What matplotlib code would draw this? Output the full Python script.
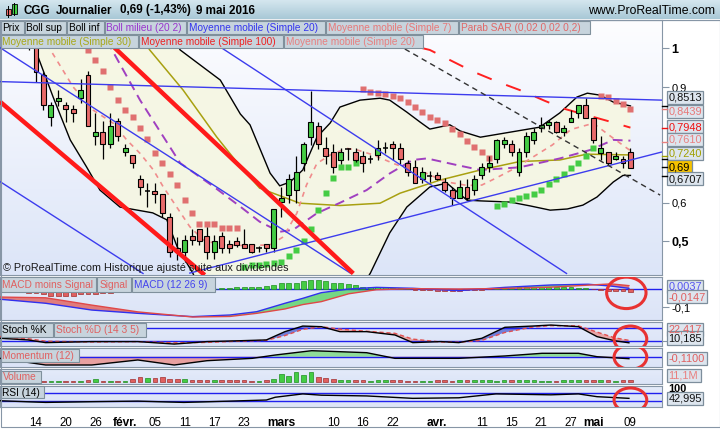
import numpy as np
import matplotlib
matplotlib.use("Agg")
import matplotlib.pyplot as plt
from matplotlib.patches import Rectangle, Ellipse
from matplotlib.colors import LinearSegmentedColormap

plt.rcParams['font.family'] = ['Liberation Sans', 'DejaVu Sans']

# ---------------- price data (trading-day index, 0 = 14 Jan 2016) ----------------
idx = list(range(-1, 81))
opens = [1.08, 1.02, 0.931, 0.822, 0.864, 0.853, 0.842, 0.871, 0.931, 0.772, 0.783, 0.752, 0.811, 0.731, 0.723,
         0.661, 0.631, 0.631, 0.622, 0.563, 0.482, 0.472, 0.514, 0.531, 0.514, 0.472, 0.514, 0.493, 0.502, 0.493,
         0.493, 0.484, 0.493, 0.482, 0.601, 0.62, 0.633, 0.702, 0.771, 0.80, 0.741, 0.731, 0.711, 0.739, 0.731,
         0.722, 0.713, 0.724, 0.741, 0.752, 0.741, 0.702, 0.692, 0.661, 0.67, 0.672, 0.653, 0.633, 0.612, 0.642,
         0.633, 0.672, 0.692, 0.713, 0.752, 0.752, 0.681, 0.731, 0.763, 0.793, 0.802, 0.81, 0.783, 0.81, 0.832,
         0.853, 0.821, 0.73, 0.731, 0.713, 0.713, 0.731]
highs = [1.12, 1.05, 0.94, 0.862, 0.892, 0.862, 0.853, 0.922, 0.941, 0.832, 0.812, 0.832, 0.821, 0.752, 0.723,
         0.672, 0.652, 0.652, 0.622, 0.573, 0.512, 0.517, 0.531, 0.531, 0.538, 0.516, 0.525, 0.504, 0.512, 0.531,
         0.493, 0.489, 0.493, 0.585, 0.64, 0.674, 0.72, 0.757, 0.89, 0.81, 0.77, 0.752, 0.741, 0.741, 0.741,
         0.733, 0.724, 0.763, 0.757, 0.76, 0.755, 0.71, 0.71, 0.692, 0.682, 0.681, 0.663, 0.642, 0.659, 0.661,
         0.672, 0.702, 0.721, 0.765, 0.771, 0.763, 0.741, 0.784, 0.793, 0.823, 0.815, 0.812, 0.802, 0.84, 0.853,
         0.871, 0.821, 0.773, 0.732, 0.732, 0.722, 0.742]
lows = [0.995, 0.914, 0.84, 0.80, 0.851, 0.81, 0.81, 0.858, 0.80, 0.75, 0.713, 0.741, 0.761, 0.722, 0.691,
        0.62, 0.59, 0.60, 0.563, 0.46, 0.452, 0.447, 0.491, 0.49, 0.454, 0.454, 0.469, 0.471, 0.486, 0.482,
        0.469, 0.472, 0.472, 0.472, 0.564, 0.60, 0.60, 0.683, 0.75, 0.74, 0.70, 0.676, 0.70, 0.711, 0.707,
        0.68, 0.702, 0.711, 0.728, 0.71, 0.70, 0.67, 0.652, 0.652, 0.655, 0.659, 0.629, 0.594, 0.612, 0.607,
        0.62, 0.661, 0.681, 0.702, 0.741, 0.721, 0.67, 0.719, 0.752, 0.783, 0.79, 0.78, 0.773, 0.81, 0.821,
        0.821, 0.754, 0.711, 0.698, 0.711, 0.69, 0.69]
closes = [1.03, 0.94, 0.853, 0.853, 0.871, 0.842, 0.832, 0.892, 0.80, 0.783, 0.752, 0.80, 0.772, 0.741, 0.702,
          0.642, 0.631, 0.622, 0.573, 0.472, 0.472, 0.504, 0.504, 0.502, 0.472, 0.502, 0.482, 0.482, 0.492, 0.484,
          0.472, 0.484, 0.482, 0.583, 0.613, 0.661, 0.681, 0.752, 0.81, 0.752, 0.721, 0.692, 0.731, 0.739, 0.711,
          0.702, 0.713, 0.741, 0.741, 0.741, 0.713, 0.681, 0.652, 0.681, 0.67, 0.661, 0.633, 0.613, 0.642, 0.612,
          0.661, 0.692, 0.702, 0.763, 0.763, 0.731, 0.731, 0.773, 0.783, 0.802, 0.81, 0.783, 0.793, 0.821, 0.853,
          0.821, 0.763, 0.741, 0.702, 0.722, 0.702, 0.69]

# Bollinger bands (20 2)
bb_up_i = [0, 8, 14, 18.7, 19.4, 24.8, 27.5, 28.8, 31.5, 32.8, 34.2, 35.9, 37.8, 39.6, 40.9, 43.6, 46.3, 47.6,
           49.9, 51.7, 53.0, 55.7, 57.1, 59.8, 63.8, 67.8, 70.5, 72.8, 74.2, 75.9, 77.7, 80.0]
bb_up_p = [1.45, 1.30, 1.15, 1.022, 0.996, 0.918, 0.830, 0.802, 0.677, 0.644, 0.654, 0.685, 0.770, 0.807, 0.848,
           0.866, 0.871, 0.866, 0.835, 0.809, 0.791, 0.802, 0.786, 0.770, 0.783, 0.796, 0.833, 0.874, 0.884, 0.879,
           0.861, 0.851]
bb_lo_i = [-1, 0.1, 2.3, 4.6, 6.8, 8.6, 11.3, 15.7, 17.6, 19.0, 21.1, 22.1, 26, 32, 38, 43.6, 45.0, 47.6, 49.9,
           53.0, 55.3, 58.0, 59.8, 63.8, 66.5, 69.2, 71.5, 73.6, 75.5, 77.7, 79.0, 80.0]
bb_lo_p = [1.08, 0.987, 0.874, 0.763, 0.693, 0.633, 0.589, 0.574, 0.556, 0.486, 0.418, 0.374, 0.32, 0.30, 0.32,
           0.374, 0.418, 0.522, 0.589, 0.641, 0.651, 0.607, 0.605, 0.602, 0.592, 0.581, 0.584, 0.594, 0.615, 0.654,
           0.671, 0.671]
bb_mid_i = [6.0, 10.0, 14.0, 19.4, 23.9, 27.5, 30.1, 32.8, 34.6, 37.8, 40.9, 44.5, 47.6, 50.7, 52.6, 56.6, 59.8,
            65.1, 70.5, 74.6, 77.7, 80.0]
bb_mid_p = [1.12, 1.004, 0.866, 0.703, 0.642, 0.590, 0.551, 0.525, 0.530, 0.573, 0.600, 0.633, 0.676, 0.711,
            0.715, 0.698, 0.685, 0.692, 0.715, 0.737, 0.763, 0.761]

# moving averages
ma7_i = [1.5, 5.0, 7.7, 10.4, 12.2, 14.0, 15.8, 17.1, 18.9, 20.7, 22.5, 24.8, 28.4, 31.5, 33.3, 35.1, 36.4, 37.8,
         39.6, 41.8, 43.2, 45.4, 48.1, 49.9, 52.6, 55.0, 58.0, 60.0, 62.0, 64.5, 67.0, 69.5, 72.0, 75.0, 77.5, 80.0]
ma7_p = [1.01, 0.90, 0.84, 0.806, 0.763, 0.728, 0.685, 0.642, 0.59, 0.538, 0.504, 0.491, 0.489, 0.491, 0.512,
         0.573, 0.646, 0.702, 0.724, 0.741, 0.737, 0.724, 0.702, 0.689, 0.676, 0.655, 0.645, 0.646, 0.665, 0.69,
         0.72, 0.75, 0.79, 0.806, 0.77, 0.735]
ma30_i = [12, 15.3, 19.8, 24.3, 27.5, 30.1, 35.5, 40.9, 46.3, 49.0, 54.4, 59.8, 65.1, 70.5, 74.1, 80.0]
ma30_p = [1.10, 0.996, 0.892, 0.771, 0.694, 0.638, 0.599, 0.593, 0.599, 0.625, 0.659, 0.685, 0.707, 0.711,
          0.726, 0.724]
ma100_i = [44.0, 50.0, 53.0, 58.8, 62.2, 65.4, 68.5, 71.2, 77.5, 80.0]
ma100_p = [1.06, 1.01, 0.996, 0.940, 0.913, 0.890, 0.864, 0.843, 0.809, 0.7948]

# Parabolic SAR
sar_dn_i = list(range(7, 28)) + list(range(44, 62)) + list(range(76, 81))
sar_dn_p = [0.996, 0.970, 0.941, 0.901, 0.866, 0.840, 0.823, 0.794, 0.765, 0.730, 0.702, 0.675, 0.645, 0.606,
            0.573, 0.544, 0.544, 0.544, 0.534, 0.534, 0.534,
            0.894, 0.888, 0.885, 0.881, 0.877, 0.871, 0.862, 0.849, 0.836, 0.823, 0.815, 0.806, 0.790, 0.778,
            0.761, 0.745, 0.731, 0.717,
            0.877, 0.873, 0.864, 0.856, 0.8439]
sar_up_i = list(range(28, 44)) + list(range(62, 76))
sar_up_p = [0.434, 0.439, 0.439, 0.441, 0.444, 0.447, 0.461, 0.478, 0.501, 0.532, 0.581, 0.626, 0.663, 0.694,
            0.694, 0.704,
            0.592, 0.597, 0.606, 0.612, 0.618, 0.623, 0.633, 0.649, 0.662, 0.675, 0.689, 0.704, 0.721, 0.741]

# drawn trend lines (start / end)
tl_horiz_i, tl_horiz_p = [-4.85, 84.25], [0.914, 0.866]
tl_chan1_i, tl_chan1_p = [-4.85, 42.3], [1.002, 0.418]
tl_chan2_i, tl_chan2_p = [19.2, 71.4], [1.074, 0.417]
tl_chan3_i, tl_chan3_p = [-4.85, 14.4], [0.655, 0.417]
tl_supp_i, tl_supp_p = [20.7, 84.7], [0.418, 0.734]
tl_red1_i, tl_red1_p = [-4.85, 22.7], [0.862, 0.413]
tl_red2_i, tl_red2_p = [6.6, 42.7], [1.074, 0.417]
tl_dash_i, tl_dash_p = [48.5, 84.0], [1.011, 0.620]

# MACD (12 26 9)
hist_i = list(range(-4, 81))
hist_v = [-0.012, -0.014, -0.018, -0.02,
          -0.02, -0.03, -0.036, -0.036, -0.036, -0.036, -0.03, -0.027, -0.027, -0.02,
          -0.02, -0.015, -0.012, -0.01, -0.008, -0.004, -0.002, 0.002, 0.004, 0.002,
          -0.002, 0.002, 0.004, 0.003, 0.002, 0.006, 0.008, 0.009, 0.009, 0.009,
          0.01, 0.018, 0.022, 0.031, 0.031, 0.034, 0.044, 0.049, 0.049, 0.044,
          0.031, 0.031, 0.026, 0.022, 0.013, 0.013, 0.013, 0.01, 0.008, 0.005,
          0.002, -0.005, -0.008, -0.008, -0.009, -0.01, -0.01, -0.009, -0.008, -0.006,
          -0.004, -0.002, 0.003, 0.006, 0.008, 0.009, 0.012, 0.013, 0.013, 0.012,
          0.012, 0.011, 0.012, 0.008, 0.005, -0.002, -0.008, -0.012, -0.013, -0.013,
          -0.0147]
macd_i = [-4.85, 1.3, 7.5, 13.7, 21.1, 26.1, 29.7, 33.5, 35.9, 38.4, 42.1, 45.8, 50.7, 56.9, 63.1, 69.3, 74.3,
          77.4, 79.8]
macd_v = [-0.056, -0.078, -0.115, -0.133, -0.151, -0.142, -0.124, -0.078, -0.051, -0.020, 0.0, 0.009, 0.004,
          -0.009, 0.009, 0.022, 0.026, 0.016, 0.0037]
signal_v = [-0.044, -0.048, -0.088, -0.125, -0.153, -0.150, -0.133, -0.109, -0.085, -0.069, -0.026, -0.004,
            0.002, 0.0, 0.003, 0.010, 0.021, 0.028, 0.0184]

# Stochastic (14 3 5)
st_i = [-4.85, -1.1, 1.3, 7.5, 13.7, 18.6, 23.0, 27.3, 31.0, 33.5, 35.9, 38.4, 40.9, 44.5, 48.3, 50.7, 54.5,
        56.9, 60.0, 63.1, 66.8, 69.3, 73.0, 75.5, 77.9, 79.8]
st_k = [32, 24, 11, 16, 16, 4, 16, 20, 24, 64, 91, 88, 64, 64, 48, 11, 16, 11, 32, 85, 91, 96, 88, 40, 20, 10.185]
st_d = [40, 30, 18, 14, 16, 10, 12, 18, 22, 45, 75, 88, 76, 66, 56, 28, 14, 13, 22, 60, 86, 93, 92, 62, 34, 22]

# Momentum (12)
mom_i = [-4.85, 1.3, 7.5, 13.7, 18.6, 23.0, 29.1, 32.2, 37.1, 40.9, 44.5, 48.3, 53.8, 56.9, 63.1, 68.1, 73.0,
         75.5, 79.8]
mom_v = [-0.09, -0.456, -0.456, -0.18, -0.456, -0.22, -0.09, 0.093, 0.33, 0.275, 0.22, -0.09, -0.09, -0.09,
         0.04, 0.187, 0.187, 0.0, -0.11]

# Volume (millions)
vol_v = [6.5, 6.5, 6.5, 6.5, 6.5, 6.5, 6.5, 15, 17, 6.5, 6.5, 6.5, 6.5, 22, 32, 26, 26, 30, 22, 17,
         17, 15, 15, 15, 15, 15, 15, 15, 15, 6.5, 6.5, 15, 22, 54, 37, 63, 43, 63, 32, 28,
         22, 15, 11, 11, 11, 6.5, 11, 11, 11, 11, 6.5, 6.5, 6.5, 6.5, 11, 15, 6.5, 11, 11, 11,
         11, 15, 6.5, 11, 15, 11, 11, 15, 6.5, 6.5, 6.5, 11, 11, 11, 11, 11, 15, 11, 6.5, 11, 11.1]

# RSI (14)
rsi_i = [-4.85, 1.3, 7.5, 13.7, 19.9, 26.1, 31.0, 32.2, 35.9, 38.4, 44.5, 50.7, 56.9, 61.9, 69.3, 73.0, 75.5, 79.8]
rsi_v = [30, 21, 25, 28, 21, 28, 34, 49, 67, 60, 56, 43, 46, 67, 62, 67, 52, 42.995]

# x-axis labels
tick_idx = [0, 4, 8, 12, 16, 20, 24, 28, 33, 40, 44, 48, 54, 60, 64, 68, 72, 75, 80]
tick_lbl = ['14', '20', '26', 'févr.', '05', '11', '17', '23', 'mars', '10', '16', '22', 'avr.', '11', '15',
            '21', '27', 'mai', '09']
month_lbl = ['févr.', 'mars', 'avr.', 'mai']

# ---------------- figure ----------------
W, H = 720, 430
fig = plt.figure(figsize=(7.2, 4.3), dpi=100)
fig.patch.set_facecolor('white')
XL = (-4.85, 84.25)
GRID = '#8796a6'


def pax(x0, y0, x1, y1, z=1):
    return fig.add_axes([x0 / W, 1 - y1 / H, (x1 - x0) / W, (y1 - y0) / H], zorder=z)


def gradient(ax, top, bottom):
    cmap = LinearSegmentedColormap.from_list('g', [top, bottom])
    ax.imshow(np.linspace(0, 1, 128).reshape(-1, 1), cmap=cmap, extent=[0, 1, 0, 1],
              transform=ax.transAxes, aspect='auto', zorder=0, origin='upper')


def style(ax, ylim):
    ax.set_xlim(*XL)
    ax.set_ylim(*ylim)
    for s in ax.spines.values():
        s.set_color(GRID)
        s.set_linewidth(0.8)
    ax.tick_params(axis='x', length=0, labelbottom=False)
    ax.yaxis.tick_right()
    ax.tick_params(axis='y', length=5, color=GRID, labelsize=8, pad=2)


# ---- main price panel ----
ax = pax(0, 20, 662, 275)
gradient(ax, '#fdfdff', '#dce5f8')
ax.fill(np.r_[bb_up_i, bb_lo_i[::-1]], np.r_[bb_up_p, bb_lo_p[::-1]], color='#f6f7e2', alpha=0.9,
        lw=0, zorder=1)
ax.plot(bb_up_i, bb_up_p, color='black', lw=1, zorder=2)
ax.plot(bb_lo_i, bb_lo_p, color='black', lw=1, zorder=2)
ax.plot(ma30_i, ma30_p, color='#a8a010', lw=1.1, zorder=2)
ax.plot(bb_mid_i, bb_mid_p, color='#a040c0', lw=1.4, dashes=(5, 3), zorder=2)
ax.plot(ma7_i, ma7_p, color='#f08c8c', lw=1.2, dashes=(3, 3), zorder=2)
ax.plot(ma100_i, ma100_p, color='#ff2020', lw=1.4, dashes=(8, 8), zorder=2)

ax.plot(sar_dn_i, sar_dn_p, 's', ms=4.3, color='#e07070', mec='none', zorder=4)
ax.plot(sar_up_i, sar_up_p, 's', ms=4.3, color='#44cc44', mec='none', zorder=4)

o = np.array(opens); h = np.array(highs); l = np.array(lows); c = np.array(closes); xi = np.array(idx)
body_b = np.minimum(o, c)
body_h = np.abs(c - o)
doji = body_h < 0.003
cols = np.where(c >= o, '#44cc44', '#e86a6a')
ax.vlines(xi, l, h, color='black', lw=0.9, zorder=5)
ax.bar(xi[~doji], body_h[~doji], width=0.66, bottom=body_b[~doji], color=cols[~doji],
       edgecolor='black', linewidth=0.8, zorder=6)
ax.hlines(c[doji], xi[doji] - 0.36, xi[doji] + 0.36, color='black', lw=1.1, zorder=6)

for ti, tp in [(tl_horiz_i, tl_horiz_p), (tl_chan1_i, tl_chan1_p), (tl_chan2_i, tl_chan2_p),
               (tl_chan3_i, tl_chan3_p), (tl_supp_i, tl_supp_p)]:
    ax.plot(ti, tp, color='#3c3cee', lw=1, zorder=7)
ax.plot(tl_red1_i, tl_red1_p, color='#ff1a1a', lw=3.2, zorder=7, solid_capstyle='butt')
ax.plot(tl_red2_i, tl_red2_p, color='#ff1a1a', lw=3.2, zorder=7, solid_capstyle='butt')
ax.plot(tl_dash_i, tl_dash_p, color='#333333', lw=1, dashes=(4, 3), zorder=7)

style(ax, (0.4130, 1.0736))
ax.set_yticks([0.5, 0.6, 0.9, 1.0])
ax.set_yticklabels(['0,5', '0,6', '0,9', '1'])
for t in ax.get_yticklabels():
    if t.get_text() in ('0,5', '1'):
        t.set_fontweight('bold')
        t.set_fontsize(9)

# ---- MACD ----
am = pax(0, 277, 662, 320)
gradient(am, '#e4ebfa', '#dce4f7')
mv = np.array(macd_v); sv = np.array(signal_v)
am.fill_between(macd_i, mv, sv, where=mv >= sv, interpolate=True, color='#74d884', lw=0, zorder=1)
am.fill_between(macd_i, mv, sv, where=mv < sv, interpolate=True, color='#e07c7c', lw=0, zorder=1)
am.axhline(0, color='#2020ee', lw=1, zorder=2)
hv = np.array(hist_v)
am.bar(hist_i, hv, width=0.66, color=np.where(hv >= 0, '#44cc44', '#e06060'),
       edgecolor=np.where(hv >= 0, '#1f8f1f', '#a03030'), linewidth=0.5, zorder=3)
am.plot(macd_i, mv, color='#3030ee', lw=1, zorder=4)
am.plot(macd_i, sv, color='#e04848', lw=1, zorder=4)
style(am, (-0.1694, 0.0656))
am.set_yticks([-0.1])
am.set_yticklabels(['-0,1'])
am.add_patch(Ellipse((79.45, -0.021), 5.3, 0.172, fill=False, ec='#e83232', lw=2.2, zorder=10))

# ---- Stochastic ----
asx = pax(0, 322, 662, 346)
gradient(asx, '#e4ebfa', '#dce4f7')
kk = np.array(st_k); dd = np.array(st_d)
asx.fill_between(st_i, kk, dd, where=kk >= dd, interpolate=True, color='#7080dc', lw=0, zorder=1)
asx.fill_between(st_i, kk, dd, where=kk < dd, interpolate=True, color='#e8a6a6', lw=0, zorder=1)
asx.axhline(80, color='#2020ee', lw=1, zorder=2)
asx.axhline(20, color='#2020ee', lw=1, zorder=2)
asx.plot(st_i, dd, color='#e05050', lw=1, dashes=(3, 2), zorder=3)
asx.plot(st_i, kk, color='black', lw=1, zorder=4)
style(asx, (-5.3, 110.6))
asx.set_yticks([20])
asx.set_yticklabels([''])
asx.add_patch(Ellipse((80.0, 28.5), 4.4, 125, fill=False, ec='#e83232', lw=2.2, zorder=10))

# ---- Momentum ----
amo = pax(0, 348, 662, 367)
gradient(amo, '#e4ebfa', '#dce4f7')
mo = np.array(mom_v)
amo.fill_between(mom_i, mo, 0, where=mo >= 0, interpolate=True, color='#8fdc98', lw=0, zorder=1)
amo.fill_between(mom_i, mo, 0, where=mo < 0, interpolate=True, color='#e8a0a0', lw=0, zorder=1)
amo.axhline(0, color='#2020ee', lw=1, zorder=2)
amo.plot(mom_i, mo, color='black', lw=1, zorder=3)
style(amo, (-0.566, 0.478))
amo.set_yticks([])
amo.add_patch(Ellipse((80.0, -0.02), 4.4, 1.35, fill=False, ec='#e83232', lw=2.2, zorder=10))

# ---- Volume ----
av = pax(0, 369, 662, 384)
gradient(av, '#e4ebfa', '#dce4f7')
vx = np.arange(0, 81)
vup = c[1:] >= o[1:]
av.bar(vx, vol_v, width=0.62, color=np.where(vup, '#44cc44', '#e06060'),
       edgecolor=np.where(vup, '#1f8f1f', '#a03030'), linewidth=0.5, zorder=3)
style(av, (-13, 84.5))
av.set_yticks([])

# ---- RSI ----
ar = pax(0, 386, 662, 407)
gradient(ar, '#e4ebfa', '#dce4f7')
rv = np.array(rsi_v)
ar.fill_between(rsi_i, rv, 30, where=rv < 30, interpolate=True, color='#8fdc98', lw=0, zorder=1)
ar.axhline(70, color='#2020ee', lw=1, zorder=2)
ar.axhline(30, color='#2020ee', lw=1, zorder=2)
ar.plot(rsi_i, rv, color='black', lw=1, zorder=3)
style(ar, (-3.8, 109.7))
ar.set_yticks([])
ar.add_patch(Ellipse((80.0, 34), 4.4, 130, fill=False, ec='#e83232', lw=2.2, zorder=10))
ar.set_xticks(tick_idx)
ar.set_xticklabels(tick_lbl)
ar.tick_params(axis='x', length=0, pad=7, labelsize=8.3, labelbottom=True)
for t in ar.get_xticklabels():
    if t.get_text() in month_lbl:
        t.set_fontweight('bold')
        t.set_fontsize(8.6)

# ---------------- overlay (title bar, legends, value boxes) ----------------
ov = fig.add_axes([0, 0, 1, 1], zorder=20)
ov.patch.set_alpha(0)
tcm = LinearSegmentedColormap.from_list('t', ['#d7e8f0', '#a8c8d6'])
ov.imshow(np.linspace(0, 1, 64).reshape(-1, 1), cmap=tcm, extent=[0, 720, 19.5, 0], aspect='auto', origin='upper')
ov.set_xlim(0, W)
ov.set_ylim(H, 0)
ov.axis('off')
ov.plot([0, 720], [19.5, 19.5], color=GRID, lw=0.8)

# title icon
ov.plot([8, 8], [6, 17], color='black', lw=0.7)
ov.add_patch(Rectangle((6, 8.5), 4.5, 6.5, fc='#e86a6a', ec='black', lw=0.6))
ov.plot([14, 14], [2.5, 15], color='black', lw=0.7)
ov.add_patch(Rectangle((12, 4), 4.5, 9.5, fc='#44cc44', ec='black', lw=0.6))
for tx, tt in [(23, 'CGG'), (56, 'Journalier'), (120.5, '0,69 (-1,43%)'), (196, '9 mai 2016')]:
    ov.text(tx, 10.5, tt, fontsize=8.4, fontweight='bold', va='center')
ov.text(715, 10.5, 'www.ProRealTime.com', fontsize=8.8, va='center', ha='right')

BOXF = '#c7d4dd'
BOXE = '#7f909c'


def legend_row(items, edges, y0, y1):
    for (txt, col), xa, xb in zip(items, edges[:-1], edges[1:]):
        ov.add_patch(Rectangle((xa + 0.5, y0), xb - xa - 1, y1 - y0, fc=BOXF, ec=BOXE, lw=0.8))
        ov.text(xa + 2.5, (y0 + y1) / 2 + 0.5, txt, color=col, fontsize=7.3, va='center', ha='left')


legend_row([('Prix', 'black'), ('Boll sup', 'black'), ('Boll inf', 'black'),
            ('Boll milieu (20 2)', '#9933cc'), ('Moyenne mobile (Simple 20)', '#3333ee'),
            ('Moyenne mobile (Simple 7)', '#e87878'), ('Parab SAR (0,02 0,02 0,2)', '#e06868')],
           [0, 24, 66.7, 104, 186.7, 325, 458.3, 590.7], 20.7, 34.2)
legend_row([('Moyenne mobile (Simple 30)', '#a8a818'), ('Moyenne mobile (Simple 100)', '#ee2020'),
            ('Moyenne mobile (Simple 20)', '#e88080')],
           [0, 138.3, 283.3, 423.3], 34.7, 48.3)
legend_row([('MACD moins Signal', '#e06060'), ('Signal', '#e06060'), ('MACD (12 26 9)', '#4444ee')],
           [0, 96.7, 131.7, 215], 277.3, 291.7)
legend_row([('Stoch %K', 'black'), ('Stoch %D (14 3 5)', '#e06060')], [0, 53.3, 146.7], 322.7, 336.7)
legend_row([('Momentum (12)', '#e06060')], [0, 79.3], 349, 362.3)
legend_row([('Volume', '#e06060')], [0, 41], 370.7, 382.7)
legend_row([('RSI (14)', 'black')], [0, 44], 386, 398.3)

ov.text(3, 268, '© ProRealTime.com Historique ajusté suite aux dividendes', fontsize=7.8,
        color='#1a1a1a', va='center', ha='left')


def vbox(yc, text, tc, w=36.5, fc='#dde5ee', x0=666.5, hh=13):
    ov.add_patch(Rectangle((x0, yc - hh / 2), w, hh, fc=fc, ec='#7d8e9c', lw=0.9))
    ov.text(x0 + 2, yc + 0.5, text, color=tc, fontsize=7.9, va='center', ha='left')


# value ticks on the price axis
for yv, col in [(105.8, 'black'), (108.6, '#e87878'), (127.6, '#ee1111'), (141.6, '#e88080'),
                (155.9, '#a0a000'), (158.9, 'black'), (166.5, 'black'), (176.4, 'black')]:
    ov.plot([662, 667], [yv, yv], color=col, lw=1)

vbox(97.5, '0,8513', '#111111')
vbox(111, '0,8439', '#e87878')
vbox(126.5, '0,7948', '#ee1111')
vbox(139.5, '0,7610', '#e88080')
vbox(153.5, '0,7240', '#a0a000')
vbox(166.7, '0,69', 'black', w=25.5, fc='#f6c200')
vbox(178.5, '0,6707', '#111111')

vbox(286.0, '0,0037', '#5555ee')
vbox(296.8, '-0,0147', '#e06060', w=40)
vbox(329.5, '22,417', '#e06060')
vbox(338.3, '10,185', '#111111', hh=14)
vbox(358.3, '-0,1100', '#e06060', w=40)
vbox(375.3, '11,1M', '#e88080', w=34)
ov.text(668, 389, '100', fontsize=7.9, fontweight='bold', va='center', ha='left')
vbox(398.3, '42,995', '#111111')

ov.add_patch(Rectangle((0.5, 19.5), 719, 407.5, fill=False, ec=GRID, lw=0.8))

fig.savefig('out.png', dpi=100)
